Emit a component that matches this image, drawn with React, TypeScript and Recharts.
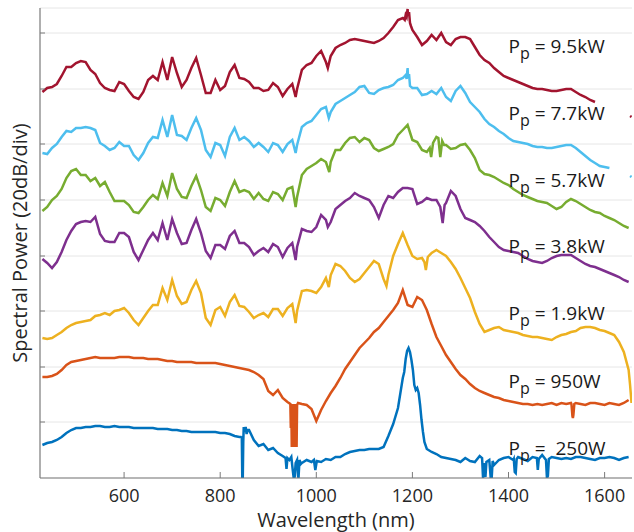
import { LineChart, Line, XAxis, YAxis, CartesianGrid, ReferenceDot, Label } from 'recharts';

type Detail = [number, number][];

// wavelength grid (nm), 10 nm steps
const wavelengths = Array.from({ length: 123 }, (_, i) => 430 + i * 10);

// levels (1 unit = 20/55.6 dB, traces offset by the authors)
const levels250W = [
  33, 35, 36, 38, 41, 45, 48, 50, 50, 51,
  51, 52, 52, 51, 51, 52, 51, 51, 51, 50,
  50, 50, 50, 50, 49, 49, 49, 48, 48, 47,
  47, 46, 46, 46, 46, 46, 46, 45, 45, 44,
  42, 41, 51, 48, 38, 32, 34, 28, 30, 25,
  22, 16, 16, 17, 15, 18, 16, 18, 16, 19,
  18, 21, 21, 24, 26, 27, 28, 28, 29, 29,
  29, 31, 42, 54, 70, 100, 128, 113, 88, 58,
  29, 26, 24, 21, 20, 19, 18, 16, 20, 17,
  16, 22, 18, 16, 13, 18, 20, 21, 18, 21,
  19, 17, 21, 18, 23, 16, 21, 20, 19, 20,
  19, 21, 21, 20, 19, 18, 20, 20, 21, 20,
  18, 20, 21,
];
const details250W: Detail[] = [
  [[843, 41], [845, 40], [846, 0], [847, 0], [848, 36], [849, 51], [851, 46], [853, 51], [855, 44], [857, 48]],
  [[936, 20], [938, 9], [940, 20], [944, 18], [948, 21], [951, 8], [953, 0], [955, 1], [957, 15], [960, 18], [962, 2], [963, 0], [965, 18], [968, 14]],
  [[995, 18], [998, 8], [1001, 17]],
  [[1183, 106], [1186, 119], [1189, 127], [1192, 130], [1195, 126], [1198, 118], [1201, 108], [1204, 93], [1207, 88], [1210, 90], [1213, 85], [1216, 73], [1219, 58], [1222, 46], [1225, 36]],
  [[1345, 20], [1347, 0], [1349, 15], [1352, 1], [1354, 16], [1360, 18], [1363, 0], [1365, 0], [1367, 17]],
  [[1411, 19], [1413, 6], [1415, 5], [1417, 19]],
  [[1459, 20], [1461, 8], [1463, 19], [1470, 23], [1478, 18], [1480, 0], [1482, 2], [1484, 19]],
];

const levels950W = [
  101, 101, 102, 104, 108, 113, 116, 117, 118, 119,
  120, 121, 120, 120, 120, 120, 121, 121, 121, 120,
  120, 120, 119, 119, 119, 118, 117, 117, 116, 116,
  116, 116, 115, 115, 115, 115, 115, 114, 113, 112,
  111, 110, 109, 108, 106, 103, 99, 87, 83, 88,
  80, 76, 74, 75, 74, 73, 69, 57, 68, 77,
  85, 92, 100, 109, 116, 123, 130, 135, 140, 146,
  150, 156, 162, 168, 175, 188, 173, 171, 181, 178,
  168, 154, 141, 132, 123, 116, 109, 103, 99, 94,
  90, 87, 85, 83, 81, 80, 78, 77, 76, 75,
  74, 74, 73, 74, 73, 74, 75, 73, 75, 74,
  75, 75, 74, 73, 75, 75, 74, 73, 75, 74,
  73, 75, 78,
];
const details950W: Detail[] = [
  [[946, 74], [947, 50], [948, 73], [949, 31], [950, 74], [951, 32], [952, 72], [953, 31], [954, 74], [955, 31], [956, 73], [957, 32], [958, 74], [959, 31], [960, 73], [962, 75]],
  [[1531, 74], [1533, 62], [1534, 60], [1535, 63], [1537, 74]],
];

const levels1p9kW = [
  140, 139, 140, 143, 146, 150, 153, 155, 156, 157,
  158, 162, 163, 165, 163, 167, 168, 170, 165, 158,
  153, 160, 167, 173, 173, 190, 178, 198, 182, 174,
  176, 188, 197, 185, 160, 153, 168, 171, 162, 176,
  183, 172, 171, 166, 160, 163, 165, 161, 169, 169,
  162, 170, 174, 167, 187, 188, 187, 185, 191, 200,
  203, 214, 212, 207, 200, 196, 199, 205, 211, 217,
  214, 199, 203, 222, 234, 245, 233, 222, 219, 220,
  216, 225, 228, 225, 222, 216, 209, 200, 190, 180,
  166, 154, 146, 148, 150, 151, 148, 147, 146, 145,
  143, 142, 141, 141, 140, 139, 138, 141, 143, 144,
  146, 147, 150, 151, 151, 150, 148, 147, 145, 143,
  136, 126, 108,
];
const details1p9kW: Detail[] = [
  [[957, 155]],
  [[1026, 191]],
  [[1146, 192]],
  [[1225, 216], [1228, 208], [1232, 221]],
  [[1653, 93], [1656, 75]],
];

const levels3p8kW = [
  219, 215, 210, 216, 226, 238, 247, 254, 256, 257,
  256, 261, 244, 237, 236, 236, 245, 245, 241, 226,
  218, 228, 238, 245, 238, 255, 238, 259, 245, 234,
  235, 248, 259, 245, 227, 220, 233, 233, 229, 242,
  247, 235, 235, 231, 223, 227, 230, 226, 234, 231,
  221, 230, 235, 231, 249, 247, 246, 251, 263, 258,
  256, 269, 273, 277, 280, 285, 282, 280, 278, 271,
  260, 273, 282, 280, 286, 290, 290, 289, 274, 276,
  280, 278, 278, 264, 275, 287, 282, 269, 260, 258,
  256, 252, 247, 241, 236, 231, 228, 227, 226, 225,
  222, 219, 217, 216, 215, 217, 220, 222, 223, 223,
  223, 220, 217, 214, 212, 211, 209, 207, 205, 203,
  201, 198, 196,
];
const details3p8kW: Detail[] = [
  [[957, 218]],
  [[1024, 251]],
  [[1258, 271], [1263, 255], [1267, 273]],
];

const levels5p7kW = [
  267, 271, 278, 282, 289, 300, 307, 309, 303, 303,
  297, 300, 292, 296, 286, 277, 277, 277, 273, 266,
  265, 271, 278, 283, 279, 295, 282, 305, 289, 281,
  280, 292, 302, 288, 271, 267, 280, 278, 272, 286,
  297, 286, 288, 286, 279, 285, 279, 277, 286, 284,
  278, 289, 291, 281, 303, 309, 312, 315, 319, 316,
  316, 328, 328, 335, 340, 341, 336, 340, 338, 330,
  327, 329, 331, 334, 343, 348, 353, 338, 336, 328,
  326, 328, 339, 326, 333, 329, 330, 333, 334, 328,
  320, 308, 304, 303, 301, 298, 295, 293, 289, 286,
  283, 281, 279, 277, 276, 275, 272, 269, 271, 276,
  279, 277, 274, 271, 268, 266, 265, 262, 260, 258,
  255, 252, 250,
];
const details5p7kW: Detail[] = [
  [[957, 271]],
  [[1027, 306]],
  [[1236, 330], [1239, 321], [1243, 335], [1250, 341], [1254, 340], [1258, 321], [1262, 337], [1266, 333]],
];

const levels7p7kW = [
  325, 324, 330, 334, 341, 347, 346, 350, 350, 351,
  350, 348, 335, 332, 328, 330, 336, 332, 332, 323,
  318, 325, 335, 341, 340, 358, 341, 363, 343, 342,
  338, 350, 360, 348, 328, 321, 335, 333, 322, 341,
  350, 338, 341, 337, 331, 335, 331, 326, 335, 333,
  326, 334, 338, 333, 351, 355, 357, 363, 369, 371,
  366, 374, 377, 380, 383, 386, 391, 392, 385, 384,
  388, 390, 391, 393, 398, 400, 409, 390, 390, 383,
  384, 387, 384, 390, 381, 377, 387, 392, 385, 376,
  371, 366, 359, 354, 351, 347, 344, 340, 337, 336,
  335, 334, 332, 331, 331, 330, 330, 331, 332, 333,
  333, 330, 326, 322, 318, 315, 312, 311, 310, null,
  null, null, null,
];
const details7p7kW: Detail[] = [
  [[957, 325]],
  [[1026, 360]],
  [[1186, 403], [1188, 399], [1190, 410], [1191, 400], [1193, 404], [1195, 392]],
  [[1653, 302], [1656, 301]],
];

const levels9p5kW = [
  386, 390, 391, 394, 402, 411, 411, 415, 417, 416,
  408, 404, 395, 390, 388, 387, 396, 394, 387, 381,
  379, 386, 398, 402, 398, 416, 398, 421, 405, 391,
  398, 410, 420, 403, 385, 385, 398, 388, 392, 406,
  413, 400, 399, 396, 390, 390, 387, 388, 395, 391,
  382, 389, 394, 389, 408, 413, 415, 422, 427, 416,
  422, 430, 433, 435, 438, 439, 438, 437, 436, 435,
  437, 440, 445, 451, 458, 460, 469, 448, 441, 433,
  437, 443, 438, 445, 436, 433, 439, 441, 441, 439,
  431, 423, 418, 415, 410, 406, 402, 400, 398, 396,
  394, 392, 390, 389, 389, 388, 387, 387, 388, 389,
  389, 386, 383, 381, 378, 376, null, null, null, null,
  null, null, null,
];
const details9p5kW: Detail[] = [
  [[957, 381]],
  [[1024, 410]],
  [[1184, 458], [1186, 463], [1188, 461], [1190, 469], [1191, 462], [1193, 466], [1195, 455], [1197, 452]],
  [[1653, 362], [1656, 361]],
];

const xTicks = [600, 800, 1000, 1200, 1400, 1600];
const yTicks = [56, 111, 167, 222, 278, 334, 389, 445];

const pumpLabels = ['9.5kW', '7.7kW', '5.7kW', '3.8kW', '1.9kW', '950W', ' 250W'];
const labelLevels = [425, 358, 291, 225, 158, 90, 23];

function buildPoints(levels: (number | null)[], details: Detail[]) {
  let points = wavelengths.map((wl, i) => ({ wl, level: levels[i] }));
  details.forEach((group) => {
    const lo = group[0][0];
    const hi = group[group.length - 1][0];
    points = points.filter((p) => p.wl < lo || p.wl > hi);
    group.forEach(([wl, level]) => points.push({ wl, level }));
  });
  return points.sort((a, b) => a.wl - b.wl);
}

// drawn bottom to top
const series = [
  { name: '250W', color: '#0072BD', data: buildPoints(levels250W, details250W) },
  { name: '950W', color: '#D95319', data: buildPoints(levels950W, details950W) },
  { name: '1.9kW', color: '#EDB120', data: buildPoints(levels1p9kW, details1p9kW) },
  { name: '3.8kW', color: '#7E2F8E', data: buildPoints(levels3p8kW, details3p8kW) },
  { name: '5.7kW', color: '#77AC30', data: buildPoints(levels5p7kW, details5p7kW) },
  { name: '7.7kW', color: '#4DBEEE', data: buildPoints(levels7p7kW, details7p7kW) },
  { name: '9.5kW', color: '#A2142F', data: buildPoints(levels9p5kW, details9p5kW) },
];

const font = "'Open Sans', sans-serif";
const axisColor = '#7a7a7a';
const textColor = '#262626';

export default function App() {
  return (
    <div style={{ position: 'absolute', left: 0, top: 0, width: 634, height: 532, background: '#fff' }}>
      <LineChart width={634} height={532} margin={{ top: 8, right: 2, bottom: 0, left: 0 }}>
        <CartesianGrid vertical={false} stroke="#e6e6e6" />
        <XAxis
          type="number"
          dataKey="wl"
          domain={[425, 1657]}
          ticks={xTicks}
          allowDataOverflow
          height={54}
          tickSize={-6}
          tickMargin={17}
          axisLine={{ stroke: axisColor, strokeWidth: 1.2 }}
          tickLine={{ stroke: axisColor }}
          tick={{ fontSize: 18, fill: textColor, fontFamily: font }}
        >
          <Label value="Wavelength (nm)" position="insideBottom" offset={5} fontSize={20} fill={textColor} fontFamily={font} />
        </XAxis>
        <YAxis
          type="number"
          domain={[0, 470]}
          ticks={yTicks}
          allowDataOverflow
          width={40}
          tickSize={-5}
          tickFormatter={() => ''}
          axisLine={{ stroke: axisColor, strokeWidth: 1.2 }}
          tickLine={{ stroke: axisColor }}
        >
          <Label value="Spectral Power (20dB/div)" angle={-90} position="center" fontSize={20} fill={textColor} fontFamily={font} />
        </YAxis>
        {series.map((s) => (
          <Line
            key={s.name}
            data={s.data}
            dataKey="level"
            type="linear"
            stroke={s.color}
            strokeWidth={2.5}
            dot={false}
            isAnimationActive={false}
          />
        ))}
        {pumpLabels.map((label, i) => (
          <ReferenceDot
            key={label}
            x={1400}
            y={labelLevels[i]}
            r={0}
            shape={(p: any) => (
              <text x={p.cx} y={p.cy} fontSize={19} fill="#1a1a1a" fontFamily={font} style={{ whiteSpace: 'pre' }}>
                P
                <tspan dy={6} fontSize={16}>p</tspan>
                <tspan dy={-6}>{' = ' + label}</tspan>
              </text>
            )}
          />
        ))}
      </LineChart>
    </div>
  );
}
